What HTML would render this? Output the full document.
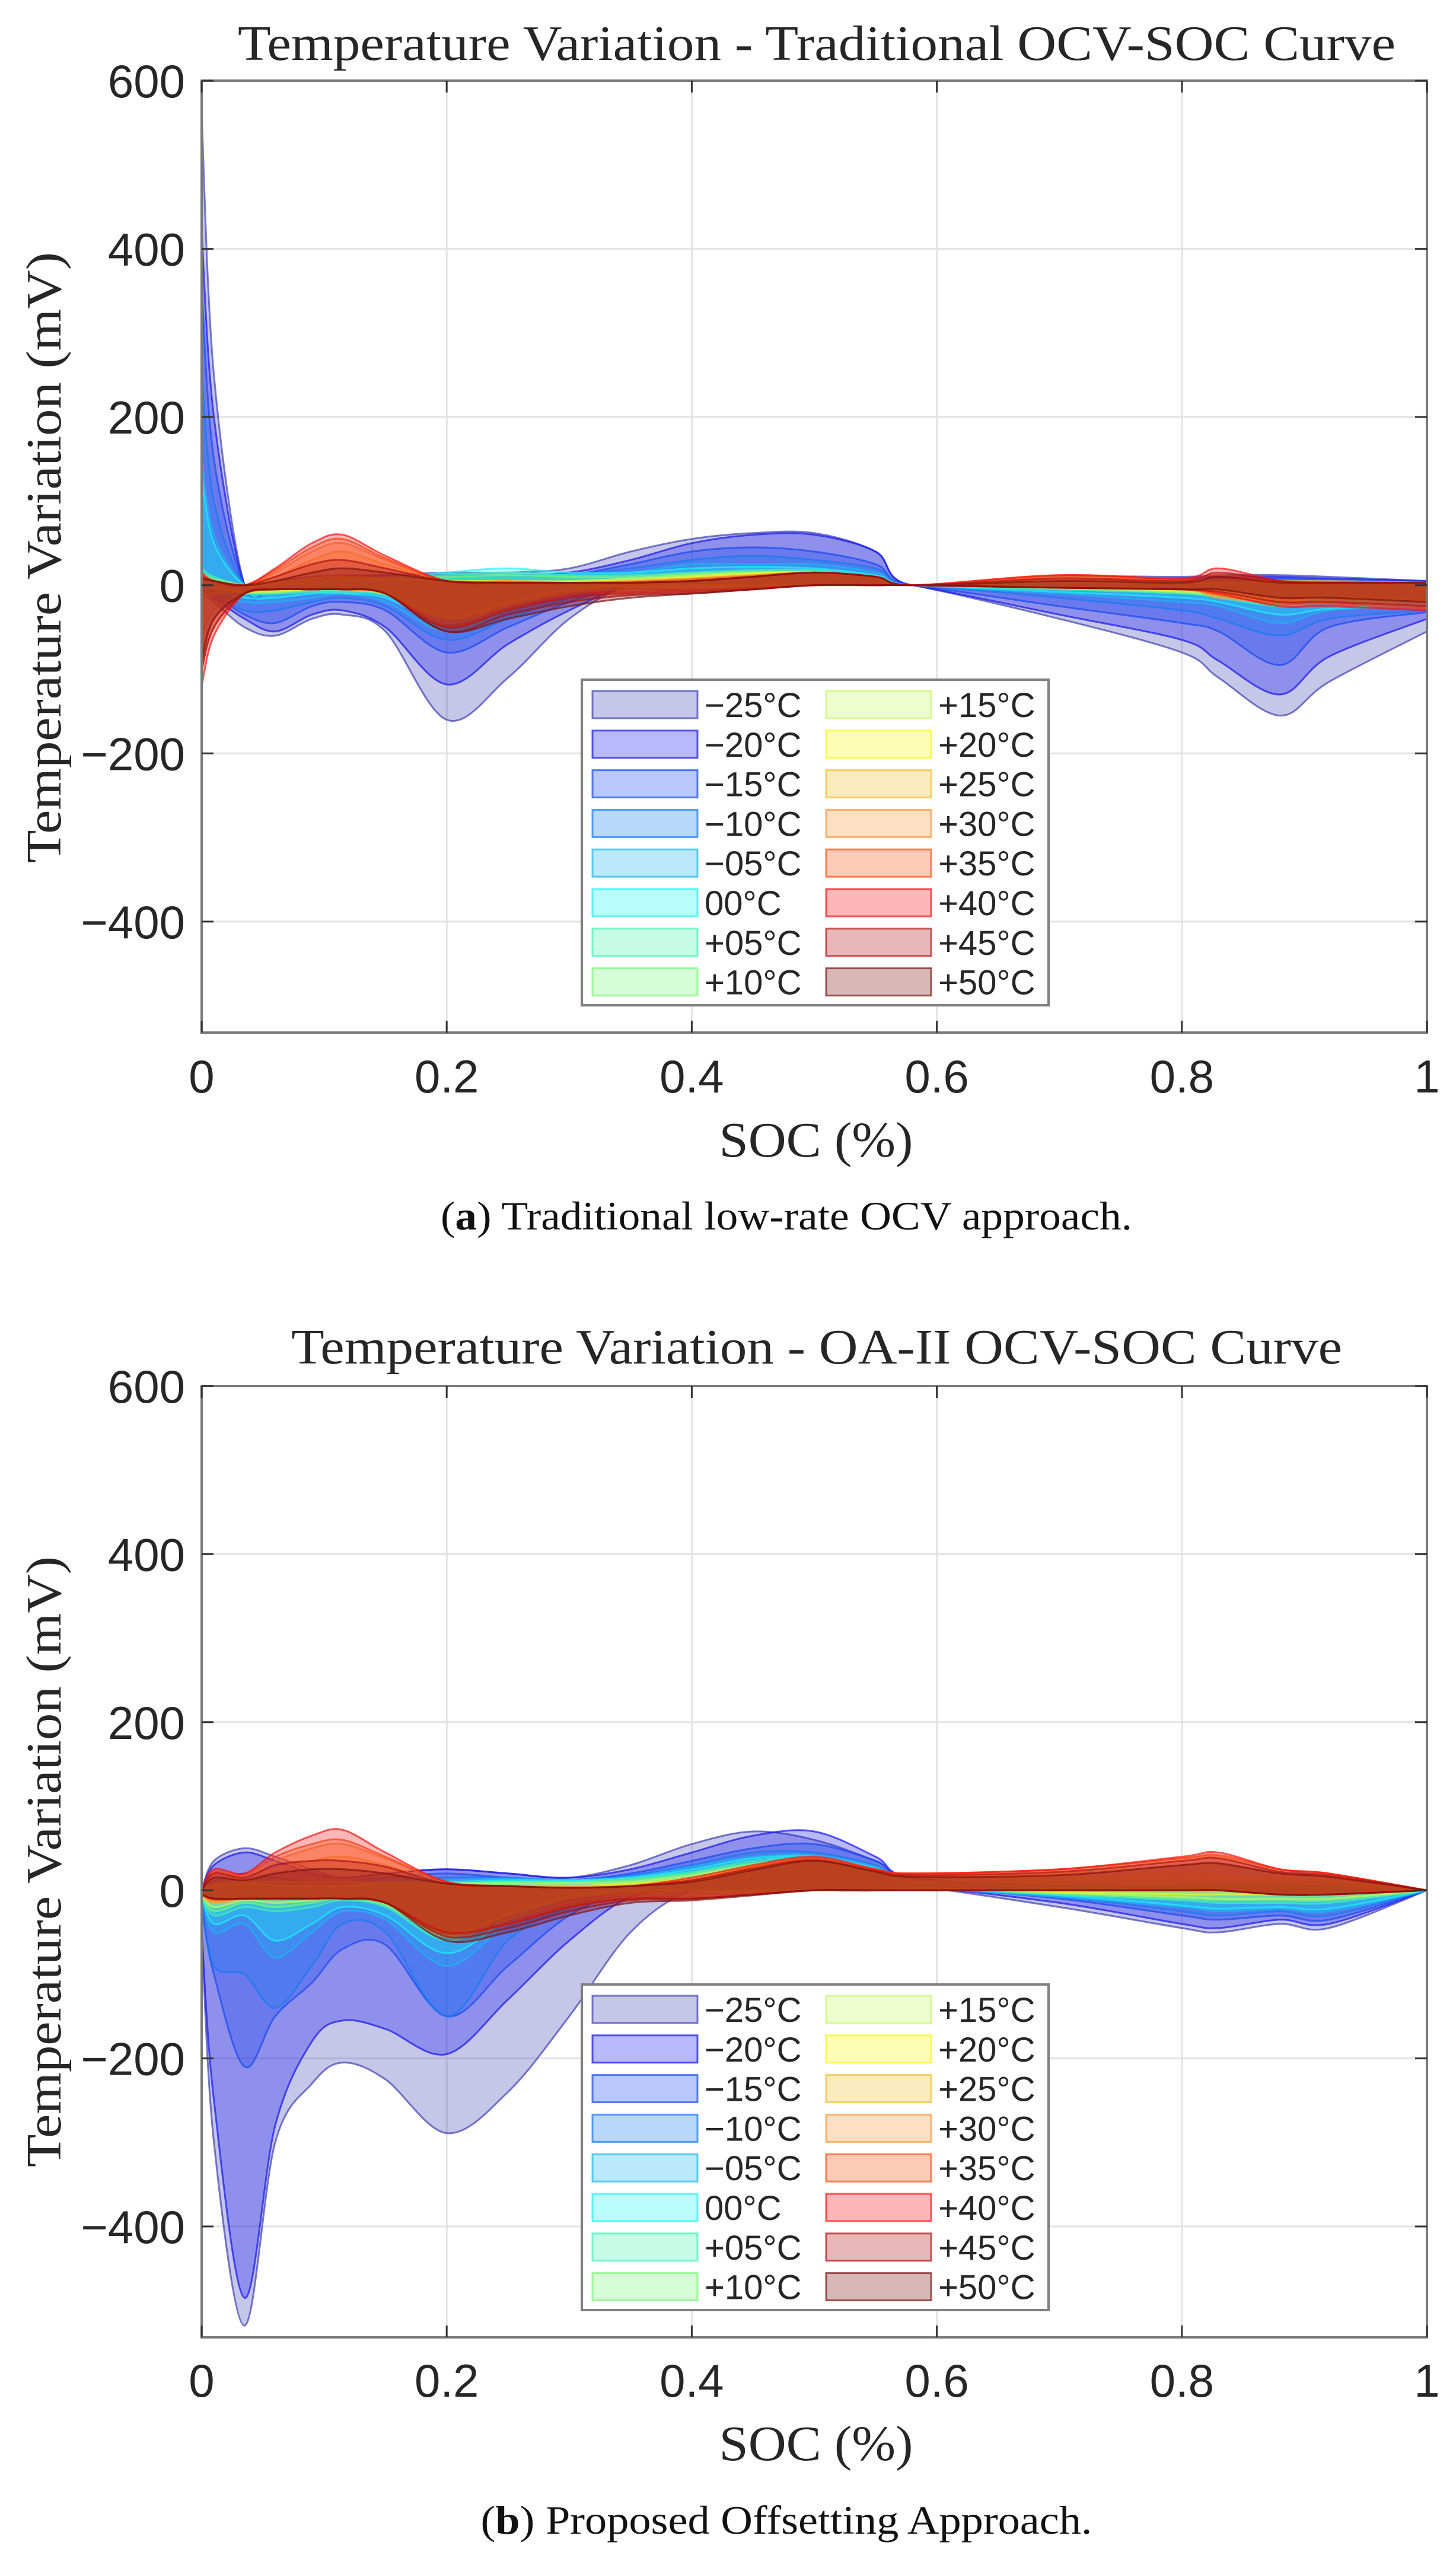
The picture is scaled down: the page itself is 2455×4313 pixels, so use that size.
<!DOCTYPE html>
<html><head><meta charset="utf-8"><style>
html,body{margin:0;padding:0;background:#fff;}
svg{display:block;}
</style></head>
<body>
<svg id="fig" width="2455" height="4313" viewBox="0 0 2455 4313" xmlns="http://www.w3.org/2000/svg"></svg>
<script>
// ---- shared data ----
const socGrid = [0,0.01,0.035,0.06,0.09,0.115,0.15,0.2,0.25,0.3,0.35,0.4,0.45,0.5,0.55,0.58,0.7,0.8,0.83,0.88,0.92,1];
const tempLabels = ["\u221225\u00b0C","\u221220\u00b0C","\u221215\u00b0C","\u221210\u00b0C","\u221205\u00b0C","00\u00b0C","+05\u00b0C","+10\u00b0C","+15\u00b0C","+20\u00b0C","+25\u00b0C","+30\u00b0C","+35\u00b0C","+40\u00b0C","+45\u00b0C","+50\u00b0C"];
const tempColors = ["#3e41b2","#1414f2","#1648f2","#167af2","#1cb6f2","#1cf2f2","#41f2b2","#76f876","#c6f862","#f8f812","#f8bc2d","#f8983a","#f85212","#f81212","#b21212","#7d1212"];
const xTicks = [0,0.2,0.4,0.6,0.8,1];
const xTickLabels = ["0","0.2","0.4","0.6","0.8","1"];
const yTicks = [600,400,200,0,-200,-400];
const yTickLabels = ["600","400","200","0","\u2212200","\u2212400"];

// ---- plot A (Traditional) upper / lower bands ----
const aUpper = [
[560,250,0,5,10,12,12,15,15,20,40,55,62,62,40,0,10,10,12,12,10,5],
[420,200,0,0,5,10,12,12,12,15,30,50,60,60,40,0,5,8,10,10,8,5],
[350,150,0,0,5,8,10,10,10,12,25,40,45,40,25,0,5,5,8,8,6,4],
[250,100,0,0,3,5,5,8,10,12,20,30,35,30,20,0,3,3,5,5,5,3],
[150,60,0,0,3,5,5,8,12,12,15,25,25,25,15,0,3,3,5,5,5,3],
[130,50,0,0,3,5,8,15,20,15,15,20,22,20,12,0,3,3,3,5,5,3],
[20,10,0,0,3,5,8,12,15,12,12,15,18,18,10,0,3,3,3,3,3,3],
[15,8,0,0,3,5,8,10,12,10,10,14,16,16,9,0,3,3,3,3,3,3],
[10,5,0,0,5,8,8,5,5,5,8,12,15,15,8,0,3,3,3,3,3,3],
[10,5,0,3,8,10,8,5,5,4,6,10,14,15,8,0,5,3,3,3,3,3],
[10,5,0,10,30,40,25,5,5,3,5,8,12,15,10,0,8,5,5,3,3,3],
[10,5,0,15,40,50,30,5,5,3,5,8,12,15,10,0,10,5,8,5,5,3],
[12,5,0,18,45,55,32,5,4,3,4,7,11,15,10,0,12,7,12,5,4,3],
[15,5,0,20,50,60,35,5,3,3,3,5,10,15,10,0,12,8,20,5,3,3],
[10,5,0,10,25,30,20,5,3,3,3,5,10,15,10,0,8,5,15,5,3,3],
[8,5,0,5,15,20,15,5,3,3,3,5,10,15,10,0,5,3,10,3,3,3]];
const aLower = [
[-10,-20,-50,-60,-40,-35,-55,-160,-110,-40,0,0,0,0,0,0,-40,-80,-110,-155,-115,-55],
[-5,-15,-40,-55,-35,-30,-50,-118,-70,-30,0,0,0,0,0,0,-35,-65,-90,-130,-85,-40],
[0,-10,-35,-45,-25,-20,-30,-80,-50,-20,0,0,0,0,0,0,-25,-45,-55,-95,-50,-32],
[0,-10,-30,-30,-20,-15,-25,-65,-40,-15,0,0,0,0,0,0,-15,-30,-40,-60,-40,-30],
[0,-10,-20,-20,-15,-10,-20,-55,-30,-10,0,0,0,0,0,0,-10,-20,-25,-45,-30,-25],
[0,-5,-15,-15,-10,-10,-15,-45,-25,-8,0,0,0,0,0,0,-8,-15,-20,-35,-28,-22],
[0,-3,-10,-10,-8,-8,-12,-40,-22,-5,0,0,0,0,0,0,-5,-10,-15,-25,-20,-20],
[0,-3,-9,-9,-6,-6,-11,-38,-21,-5,0,0,0,0,0,0,-4,-9,-13,-22,-18,-18],
[0,-3,-8,-8,-5,-5,-10,-35,-20,-5,0,0,0,0,0,0,-3,-8,-12,-20,-15,-15],
[-20,-10,-8,-6,-5,-5,-10,-38,-22,-6,-2,0,0,0,0,0,-3,-6,-10,-18,-15,-18],
[-60,-30,-10,-5,-5,-5,-10,-40,-25,-8,-5,-5,-3,0,0,0,-3,-5,-10,-15,-15,-20],
[-80,-40,-10,-5,-5,-5,-10,-45,-25,-10,-5,-5,-3,0,0,0,-3,-5,-15,-20,-20,-25],
[-100,-50,-10,-5,-5,-5,-10,-48,-28,-12,-8,-6,-4,0,0,0,-3,-5,-12,-22,-22,-28],
[-120,-60,-10,-5,-5,-5,-10,-50,-30,-15,-10,-8,-5,0,0,0,-3,-5,-10,-25,-25,-30],
[-100,-50,-10,-5,-5,-5,-10,-55,-35,-20,-12,-10,-5,0,0,0,-3,-5,-8,-20,-20,-25],
[-90,-40,-10,-5,-5,-5,-10,-55,-40,-25,-15,-10,-5,0,0,0,-3,-5,-5,-15,-15,-20]];

// ---- plot B (OA-II) upper / lower bands ----
const bUpper = [
[0,35,50,40,25,15,20,25,20,15,30,55,70,60,35,15,5,3,3,3,3,0],
[0,30,45,35,20,15,20,25,20,15,25,45,65,70,40,15,5,3,3,3,3,0],
[0,10,20,15,10,10,15,20,15,12,20,35,50,55,35,15,3,3,3,3,3,0],
[0,5,10,8,5,5,10,15,15,12,18,30,45,45,30,10,3,3,3,3,3,0],
[0,5,8,6,5,5,10,12,14,12,16,28,40,42,28,10,3,3,3,3,3,0],
[0,5,8,6,5,5,10,10,12,12,15,25,38,40,26,10,3,3,3,3,3,0],
[0,5,8,6,5,5,8,8,10,10,14,22,35,38,24,10,5,5,5,5,5,0],
[0,5,8,6,5,5,8,8,10,10,12,20,32,36,22,10,8,8,8,8,8,0],
[0,5,8,6,5,5,8,8,8,8,10,18,30,35,22,12,10,12,12,10,10,0],
[0,8,10,10,10,10,8,5,5,5,8,15,28,35,22,15,15,20,18,15,12,0],
[0,15,15,25,35,40,30,8,5,5,6,14,26,36,24,18,20,30,30,20,15,0],
[0,20,18,35,50,55,38,10,5,4,5,12,26,38,25,20,25,38,40,25,20,0],
[0,22,18,40,55,60,40,10,5,3,5,12,28,38,25,20,25,38,42,25,20,0],
[0,25,20,45,65,72,45,10,5,3,5,15,30,40,25,20,25,40,45,25,20,0],
[0,20,15,30,35,35,28,8,5,3,5,12,26,36,23,18,22,35,38,22,18,0],
[0,15,12,20,25,25,20,8,5,3,5,10,24,35,22,16,18,30,32,20,16,0]];
const bLower = [
[-50,-300,-518,-300,-230,-205,-225,-289,-240,-150,-50,0,0,0,0,5,-20,-45,-50,-40,-45,0],
[-50,-250,-485,-280,-180,-155,-165,-195,-130,-60,-8,0,0,0,0,5,-15,-40,-45,-35,-40,0],
[-20,-100,-210,-150,-110,-70,-65,-150,-90,-30,0,0,0,0,0,5,-10,-30,-35,-30,-35,0],
[-10,-90,-100,-140,-90,-40,-50,-150,-60,-20,0,0,0,0,0,3,-8,-25,-30,-25,-30,0],
[-5,-50,-40,-80,-50,-25,-35,-90,-40,-10,0,0,0,0,0,3,-8,-20,-25,-22,-25,0],
[-5,-40,-30,-60,-40,-20,-30,-75,-35,-8,0,0,0,0,0,3,-6,-18,-22,-20,-22,0],
[-5,-30,-20,-25,-20,-12,-20,-60,-30,-8,0,0,0,0,0,3,-5,-12,-15,-15,-15,0],
[-5,-25,-15,-20,-15,-10,-18,-55,-28,-8,0,0,0,0,0,3,-4,-10,-12,-12,-12,0],
[-5,-20,-12,-15,-12,-8,-16,-55,-28,-8,0,0,0,0,0,3,-3,-8,-10,-10,-10,0],
[-5,-15,-10,-10,-10,-8,-15,-50,-30,-10,-3,0,0,0,0,3,-2,-5,-5,-5,-5,0],
[-5,-15,-10,-10,-10,-8,-15,-48,-35,-15,-5,-5,-3,0,0,0,0,0,0,-5,-5,0],
[-5,-15,-10,-10,-10,-10,-15,-50,-40,-18,-8,-8,-5,0,0,0,0,0,0,-5,-5,0],
[-5,-12,-10,-10,-10,-10,-15,-52,-40,-20,-10,-10,-5,0,0,0,0,0,0,-5,-5,0],
[-5,-10,-10,-10,-10,-10,-15,-50,-40,-20,-10,-10,-5,0,0,0,0,0,0,-5,-5,0],
[-5,-10,-10,-10,-10,-10,-15,-55,-45,-25,-12,-10,-5,0,0,0,0,0,0,-5,-5,0],
[-5,-10,-10,-10,-10,-10,-15,-60,-50,-30,-15,-12,-6,0,0,0,0,0,0,-5,-5,0]];

const NS = "http://www.w3.org/2000/svg";
const svg = document.getElementById('fig');
function mk(tag, attrs, parent){
  const e = document.createElementNS(NS, tag);
  for (const k in attrs) e.setAttribute(k, attrs[k]);
  (parent||svg).appendChild(e);
  return e;
}
function smoothPath(pts){
  let d = "M"+pts[0][0].toFixed(1)+","+pts[0][1].toFixed(1);
  for (let i=0;i<pts.length-1;i++){
    const p0=pts[Math.max(0,i-1)], p1=pts[i], p2=pts[i+1], p3=pts[Math.min(pts.length-1,i+2)];
    const c1x=p1[0]+(p2[0]-p0[0])/6, c1y=p1[1]+(p2[1]-p0[1])/6;
    const c2x=p2[0]-(p3[0]-p1[0])/6, c2y=p2[1]-(p3[1]-p1[1])/6;
    d += " C"+c1x.toFixed(1)+","+c1y.toFixed(1)+" "+c2x.toFixed(1)+","+c2y.toFixed(1)+" "+p2[0].toFixed(1)+","+p2[1].toFixed(1);
  }
  return d;
}

function drawPanel(cfg){
  const L=340, R=2406, T=cfg.top, B=cfg.bottom;
  const yMax=600, yMin=-532;
  const xs = v => L + (v-0)/(1-0)*(R-L);
  const ys = v => T + (yMax-v)/(yMax-yMin)*(B-T);
  const g = mk('g',{});
  
  
  xTicks.forEach((t,i)=>{
    const l = mk('line',{x1:xs(t),x2:xs(t),y1:T,y2:B,stroke:'#e3e3e3','stroke-width':3},g);
    
    
  });
  yTicks.forEach(t=>{
    const l = mk('line',{x1:L,x2:R,y1:ys(t),y2:ys(t),stroke:'#e3e3e3','stroke-width':3},g);
    
    
  });
  const clip = mk('clipPath',{id:cfg.id+'clip'},g);
  mk('rect',{x:L,y:T,width:R-L,height:B-T},clip);
  const bg = mk('g',{'clip-path':'url(#'+cfg.id+'clip)'},g);
  for (let s=0;s<tempLabels.length;s++){
    const up = socGrid.map((x,i)=>[xs(x),ys(cfg.upper[s][i])]);
    const lo = socGrid.map((x,i)=>[xs(x),ys(cfg.lower[s][i])]).reverse();
    let d = smoothPath(up) + " L" + smoothPath(lo).slice(1) + " Z";
    const p = mk('path',{d:d,fill:tempColors[s],'fill-opacity':0.3,stroke:tempColors[s],'stroke-opacity':0.7,'stroke-width':3,'stroke-linejoin':'round'},bg);
    
    
  }
  const box = mk('rect',{x:L,y:T,width:R-L,height:B-T,fill:'none',stroke:'#7a7a7a','stroke-width':4},g);
  
  
  xTicks.forEach((t,i)=>{
    mk('line',{x1:xs(t),x2:xs(t),y1:B,y2:B-20,stroke:'#333','stroke-width':3},g);
    mk('line',{x1:xs(t),x2:xs(t),y1:T,y2:T+20,stroke:'#333','stroke-width':3},g);
    const tx = mk('text',{x:xs(t),y:cfg.xTickY,'text-anchor':'middle','font-family':'Liberation Sans, Arial, sans-serif','font-size':78,fill:'#262626'},g);
    tx.textContent = xTickLabels[i];
    
    
  });
  yTicks.forEach((t,i)=>{
    mk('line',{x1:L,x2:L+20,y1:ys(t),y2:ys(t),stroke:'#333','stroke-width':3},g);
    mk('line',{x1:R,x2:R-20,y1:ys(t),y2:ys(t),stroke:'#333','stroke-width':3},g);
    const tx = mk('text',{x:312,y:ys(t)+28,'text-anchor':'end','font-family':'Liberation Sans, Arial, sans-serif','font-size':78,fill:'#262626'},g);
    tx.textContent = yTickLabels[i];
    
    
  });
  const ti = mk('text',{x:1377,y:cfg.titleY,'text-anchor':'middle','font-family':'Liberation Serif, serif','font-size':84,fill:'#262626',textLength:cfg.titleW,lengthAdjust:'spacingAndGlyphs'},g);
  ti.textContent = cfg.title;
  
  
  const yl = mk('text',{x:0,y:0,'text-anchor':'middle','font-family':'Liberation Serif, serif','font-size':84,fill:'#262626',textLength:1030,lengthAdjust:'spacingAndGlyphs',transform:'translate(102,'+cfg.yLabelY+') rotate(-90)'},g);
  yl.textContent = 'Temperature Variation (mV)';
  
  
  const xl = mk('text',{x:1376,y:cfg.xLabelY,'text-anchor':'middle','font-family':'Liberation Serif, serif','font-size':84,fill:'#262626',textLength:327,lengthAdjust:'spacingAndGlyphs'},g);
  xl.textContent = 'SOC (%)';
  
  
  const cap = mk('text',{x:1326,y:cfg.capY,'text-anchor':'middle','font-family':'Liberation Serif, serif','font-size':68,fill:'#111',textLength:cfg.capW,lengthAdjust:'spacingAndGlyphs'},g);
  const b1 = mk('tspan',{},cap); b1.textContent='(';
  const b2 = mk('tspan',{'font-weight':'bold'},cap); b2.textContent=cfg.capLetter;
  const b3 = mk('tspan',{},cap); b3.textContent=') '+cfg.capText;
  
  
  const lg = mk('g',{},g);
  
  
  mk('rect',{x:981,y:cfg.legTop,width:787,height:549,fill:'#fff',stroke:'#808080','stroke-width':4},lg);
  for (let s=0;s<tempLabels.length;s++){
    const col = Math.floor(s/8), row = s%8;
    const sx = col===0 ? 999 : 1393;
    const cy = cfg.legTop + 42 + row*66.8;
    const sw = mk('rect',{x:sx,y:cy-23,width:177,height:46,fill:tempColors[s],'fill-opacity':0.3,stroke:tempColors[s],'stroke-opacity':0.7,'stroke-width':3},lg);
    
    
    const lt = mk('text',{x:sx+189,y:cy+21,'font-family':'Liberation Sans, Arial, sans-serif','font-size':58,fill:'#262626'},lg);
    lt.textContent = tempLabels[s];
    
    
  }
}

drawPanel({id:'a',name:'chart-traditional',top:136,bottom:1741,upper:aUpper,lower:aLower,
  title:'Temperature Variation - Traditional OCV-SOC Curve',titleY:101,titleW:1952,yLabelY:940,
  xTickY:1842,xLabelY:1950,capY:2073,capW:1166,capLetter:'a',capText:'Traditional low-rate OCV approach.',legTop:1146});
drawPanel({id:'b',name:'chart-oa-ii',top:2337,bottom:3941,upper:bUpper,lower:bLower,
  title:'Temperature Variation - OA-II OCV-SOC Curve',titleY:2299,titleW:1772,yLabelY:3139,
  xTickY:4041,xLabelY:4148,capY:4272,capW:1031,capLetter:'b',capText:'Proposed Offsetting Approach.',legTop:3346});
</script>
</body></html>
